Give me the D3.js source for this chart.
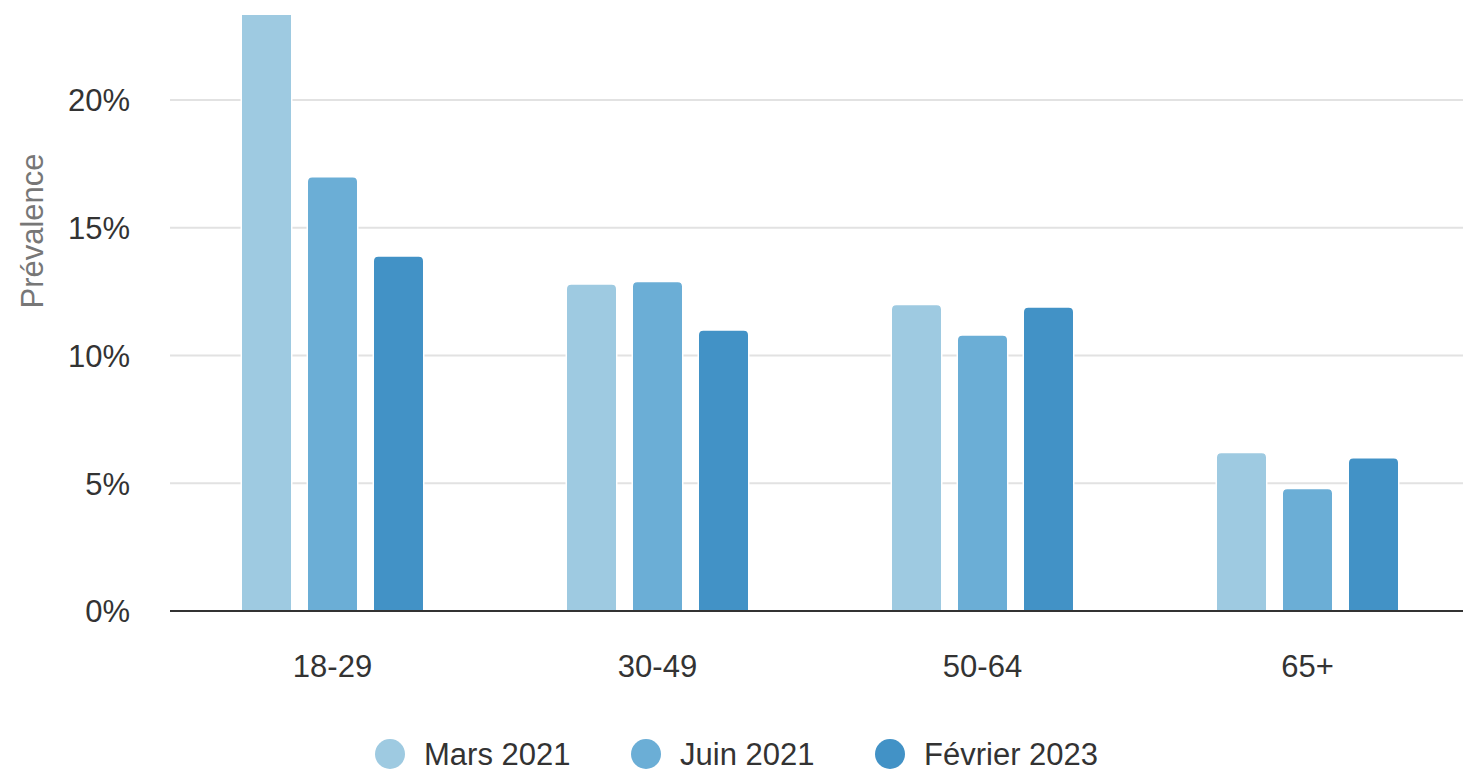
<!DOCTYPE html>
<html>
<head>
<meta charset="utf-8">
<script src="https://cdn.jsdelivr.net/npm/d3@7"></script>
<style>
  html, body { margin: 0; padding: 0; background: #fff; }
  svg { display: block; font-family: "Liberation Sans", Arial, sans-serif; }
</style>
</head>
<body>
<svg id="chart" width="1463" height="773"></svg>
<script>
// Age groups and survey waves
const categories = ["18-29", "30-49", "50-64", "65+"];
const seriesNames = ["Mars 2021", "Juin 2021", "Février 2023"];
const seriesColors = ["#9ecae1", "#6baed6", "#4292c6"];

// Prevalence (%) per wave, in category order
const mars2021 = [24.5, 12.8, 12.0, 6.2];
const juin2021 = [17.0, 12.9, 10.8, 4.8];
const fevrier2023 = [13.9, 11.0, 11.9, 6.0];
const seriesValues = [mars2021, juin2021, fevrier2023];

const yTicks = [0, 5, 10, 15, 20];

const svg = d3.select("#chart");
const W = 1463, H = 773;
const plot = { left: 170, right: 1470, top: 15, bottom: 611 };

const x0 = d3.scaleBand()
  .domain(categories)
  .range([plot.left, plot.right])
  .paddingInner(0.4385)
  .paddingOuter(0.21925);

const x1 = d3.scaleBand()
  .domain(seriesNames)
  .range([0, x0.bandwidth()])
  .paddingInner(0.235)
  .paddingOuter(0);

const y = d3.scaleLinear()
  .domain([0, 23.33])
  .range([plot.bottom, plot.top]);

// Gridlines
svg.append("g")
  .attr("class", "grid")
  .selectAll("line")
  .data(yTicks.filter(d => d > 0))
  .join("line")
  .attr("x1", plot.left)
  .attr("x2", W)
  .attr("y1", d => y(d))
  .attr("y2", d => y(d))
  .attr("stroke", "#e2e2e2")
  .attr("stroke-width", 2);

// Y axis tick labels
const yAxis = d3.axisLeft(y)
  .tickValues(yTicks)
  .tickFormat(d => d + "%")
  .tickSize(0)
  .tickPadding(0);

const yG = svg.append("g")
  .attr("transform", `translate(${plot.left - 40},0)`)
  .call(yAxis);
yG.select(".domain").remove();
yG.selectAll("text")
  .attr("font-size", 31)
  .attr("fill", "#333")
  .attr("dy", "0.35em")
  .attr("font-family", "Liberation Sans, Arial, sans-serif");

// Y axis title
svg.append("text")
  .attr("transform", `translate(43, 231) rotate(-90)`)
  .attr("text-anchor", "middle")
  .attr("font-size", 31)
  .attr("fill", "#777")
  .text("Prévalence");

// Bars with rounded top corners, clipped to the plot area
svg.append("defs").append("clipPath").attr("id", "plotClip")
  .append("rect")
  .attr("x", 0).attr("y", plot.top)
  .attr("width", W).attr("height", plot.bottom - plot.top + 2);

function topRounded(x, yTop, w, h, r) {
  r = Math.min(r, w / 2, h);
  return `M${x},${yTop + h}V${yTop + r}Q${x},${yTop} ${x + r},${yTop}` +
         `H${x + w - r}Q${x + w},${yTop} ${x + w},${yTop + r}V${yTop + h}Z`;
}

const barsData = [];
categories.forEach((c, i) => {
  seriesNames.forEach((s, j) => {
    barsData.push({ cat: c, series: s, color: seriesColors[j], value: seriesValues[j][i] });
  });
});

svg.append("g")
  .attr("clip-path", "url(#plotClip)")
  .selectAll("path")
  .data(barsData)
  .join("path")
  .attr("d", d => {
    const bx = x0(d.cat) + x1(d.series);
    const yt = y(d.value);
    return topRounded(bx, yt, x1.bandwidth(), y(0) - yt, 5);
  })
  .attr("fill", d => d.color)
  .attr("stroke", "#fff")
  .attr("stroke-width", 1.5);

// Baseline
svg.append("line")
  .attr("x1", plot.left).attr("x2", W)
  .attr("y1", y(0)).attr("y2", y(0))
  .attr("stroke", "#333")
  .attr("stroke-width", 2);

// X axis labels
const xAxis = d3.axisBottom(x0).tickSize(0).tickPadding(0);
const xG = svg.append("g")
  .attr("transform", `translate(0, ${y(0) + 55})`)
  .call(xAxis);
xG.select(".domain").remove();
xG.selectAll("text")
  .attr("font-size", 31)
  .attr("fill", "#333")
  .attr("dy", "0.35em")
  .attr("font-family", "Liberation Sans, Arial, sans-serif");

// Legend
const legendX = [390, 646, 890];
const legend = svg.append("g").attr("class", "legend");
seriesNames.forEach((s, j) => {
  const g = legend.append("g").attr("transform", `translate(${legendX[j]}, 754)`);
  g.append("circle").attr("r", 15).attr("fill", seriesColors[j]);
  g.append("text")
    .attr("x", 34)
    .attr("dy", "0.35em")
    .attr("font-size", 31)
    .attr("fill", "#333")
    .text(s);
});
</script>
</body>
</html>
